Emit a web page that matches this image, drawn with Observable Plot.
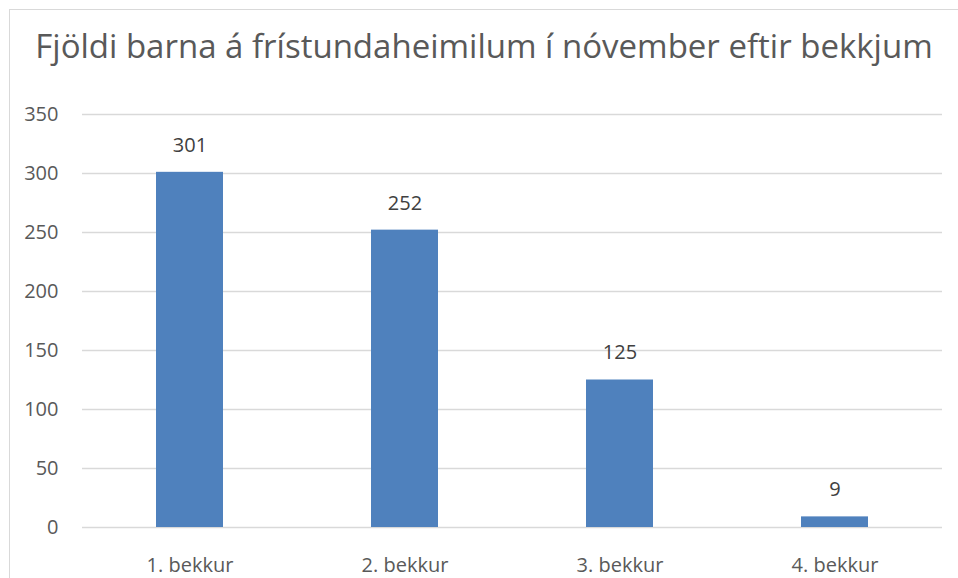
<!DOCTYPE html>
<html><head><meta charset="utf-8">
<script src="https://cdn.jsdelivr.net/npm/d3@7"></script>
<script src="https://cdn.jsdelivr.net/npm/@observablehq/plot@0.6"></script>
<style>
body{margin:0;background:#fff;width:958px;height:578px;overflow:hidden;position:relative;font-family:"Open Sans",sans-serif;}
#frame{position:absolute;left:9px;top:9px;width:1000px;height:700px;border-left:1.5px solid #d9d9d9;border-top:1.5px solid #d9d9d9;}
#title{position:absolute;left:0;top:23px;width:968px;text-align:center;font-size:33px;color:#595959;white-space:nowrap;}
#chart{position:absolute;left:0;top:90px;}
</style></head><body>
<div id="frame"></div>
<div id="title">Fjöldi barna á frístundaheimilum í nóvember eftir bekkjum</div>
<div id="chart"></div>
<script>
const categories = ["1. bekkur", "2. bekkur", "3. bekkur", "4. bekkur"];
const values = [301, 252, 125, 9];
const yTicks = [0, 50, 100, 150, 200, 250, 300, 350];
const data = categories.map((c, i) => ({c, v: values[i]}));
const chart = Plot.plot({
  width: 958, height: 488,
  marginLeft: 82, marginRight: 16, marginTop: 24, marginBottom: 51,
  style: {fontFamily: "'Open Sans', sans-serif", fontSize: "20px", color: "#595959", background: "transparent"},
  x: {domain: categories, paddingInner: 0.69, paddingOuter: 0.345, label: null, tickSize: 0, tickPadding: 30},
  y: {domain: [0, 350], ticks: yTicks, label: null, tickSize: 0, tickPadding: 24},
  marks: [
    Plot.gridY(yTicks, {stroke: "#d9d9d9", strokeWidth: 1.5, strokeOpacity: 1}),
    Plot.barY(data, {x: "c", y: "v", fill: "#4F81BD"}),
    Plot.text(data, {x: "c", y: "v", text: d => String(d.v), dy: -27, fill: "#404040", fontSize: 20})
  ]
});
document.getElementById("chart").appendChild(chart);
</script>
</body></html>
